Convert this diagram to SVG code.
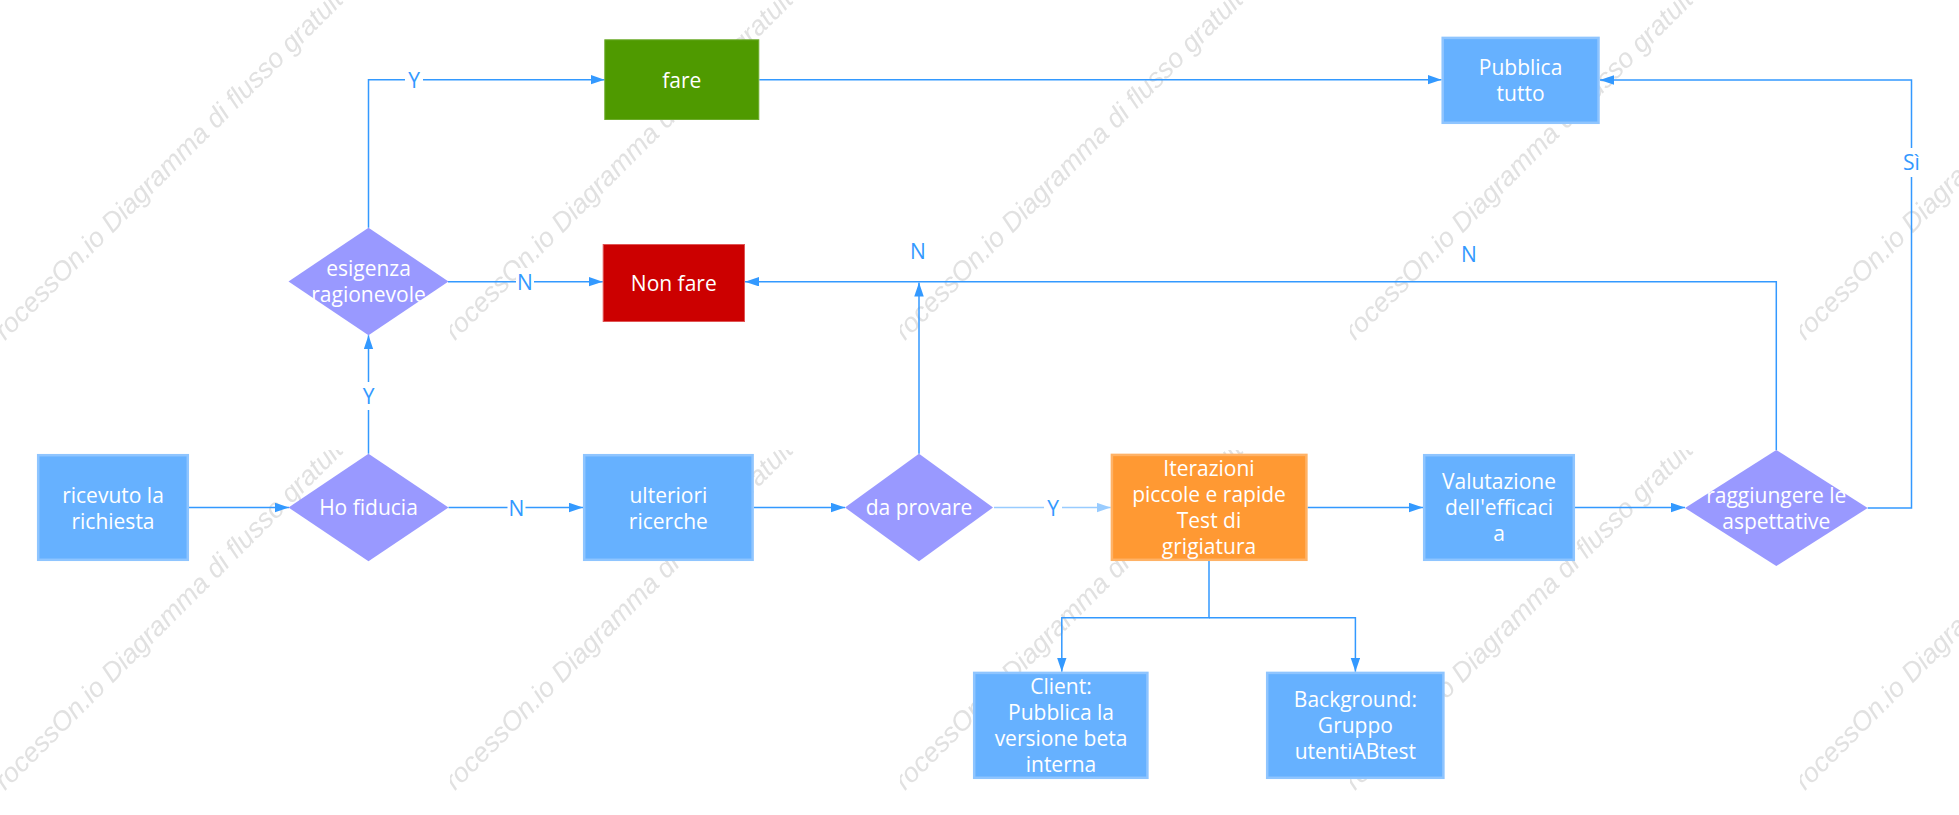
<svg xmlns="http://www.w3.org/2000/svg" width="1959" height="815" viewBox="0 0 1959 815">
<style>
.wm{font-family:"Liberation Sans",Arial,sans-serif;font-style:italic;font-size:27px;fill:#e1e1e1}
.box{fill:#66b1ff;stroke:#8fc5ff;stroke-width:2.5}
.dia{fill:#9999ff}
.t{font-family:"Open Sans","Noto Sans",sans-serif;font-size:21px;fill:#ffffff;text-anchor:middle}
.c{fill:none;stroke:#3399ff;stroke-width:1.5}
.cl{fill:none;stroke:#99ccff;stroke-width:1.5}
.lb{font-family:"Open Sans","Noto Sans",sans-serif;font-size:21px;fill:#3399ff;text-anchor:middle}
.lbg{fill:#ffffff}
</style>
<defs>
<marker id="a" markerUnits="userSpaceOnUse" markerWidth="14" markerHeight="10" refX="14" refY="4.75" orient="auto"><path d="M0,0 L14,4.75 L0,9.5 z" fill="#3399ff"/></marker>
<marker id="al" markerUnits="userSpaceOnUse" markerWidth="14" markerHeight="10" refX="14" refY="4.75" orient="auto"><path d="M0,0 L14,4.75 L0,9.5 z" fill="#99ccff"/></marker>
<pattern id="wmp" x="0" y="0" width="450" height="450" patternUnits="userSpaceOnUse"><text class="wm" transform="translate(5,341) rotate(-45)">rocessOn.io Diagramma di flusso gratuito</text></pattern>
</defs>
<rect width="1959" height="815" fill="#ffffff"/>
<rect width="1959" height="815" fill="url(#wmp)"/>

<g id="connectors">
<path class="c" d="M189,507.5 H289" marker-end="url(#a)"/>
<path class="c" d="M448.5,507.5 H583" marker-end="url(#a)"/>
<path class="c" d="M368.5,453.7 V335.3" marker-end="url(#a)"/>
<path class="c" d="M368.5,227.7 V79.7 H604.5" marker-end="url(#a)"/>
<path class="c" d="M448,281.7 H602.7" marker-end="url(#a)"/>
<path class="c" d="M759.3,79.7 H1441.5" marker-end="url(#a)"/>
<path class="c" d="M753.8,507.5 H845" marker-end="url(#a)"/>
<path class="c" d="M919,453.7 V282.5" marker-end="url(#a)"/>
<path class="c" d="M1776.3,450 V281.7 H745" marker-end="url(#a)"/>
<path class="cl" d="M994,507.5 H1110.7" marker-end="url(#al)"/>
<path class="c" d="M1307.6,507.5 H1423" marker-end="url(#a)"/>
<path class="c" d="M1575,507.5 H1685" marker-end="url(#a)"/>
<path class="c" d="M1867.7,508 H1911.5 V80 H1600" marker-end="url(#a)"/>
<path class="c" d="M1209,561 V617.7 H1061.8 V671.7" marker-end="url(#a)"/>
<path class="c" d="M1209,617.7 H1355.4 V671.7" marker-end="url(#a)"/>
<g id="labels">
<rect class="lbg" x="507.5" y="494" width="18" height="28"/><text class="lb" x="516.5" y="516">N</text>
<rect class="lbg" x="359.5" y="382" width="18" height="28"/><text class="lb" x="368.5" y="404">Y</text>
<rect class="lbg" x="405" y="66" width="18" height="28"/><text class="lb" x="414" y="88">Y</text>
<rect class="lbg" x="516" y="268" width="18" height="28"/><text class="lb" x="525" y="290">N</text>
<rect class="lbg" x="909" y="237" width="18" height="28"/><text class="lb" x="918" y="259">N</text>
<rect class="lbg" x="1460" y="240" width="18" height="28"/><text class="lb" x="1469" y="262">N</text>
<rect class="lbg" x="1044" y="494" width="18" height="28"/><text class="lb" x="1053" y="516">Y</text>
<rect class="lbg" x="1901" y="148" width="21" height="29"/><text class="lb" x="1911.5" y="170">Sì</text>
</g>
</g>

<g id="n-ricevuto"><rect class="box" x="38.2" y="455.2" width="149.6" height="104.6"/><text class="t" x="113" y="502.5">ricevuto la</text><text class="t" x="113" y="528.5">richiesta</text></g>
<g id="n-fiducia"><path class="dia" d="M368.5,453.7 L448.5,507.5 L368.5,561.3 L288.5,507.5 z"/><text class="t" x="368.5" y="515">Ho fiducia</text></g>
<g id="n-esigenza"><path class="dia" d="M368.5,227.7 L448.5,281.5 L368.5,335.3 L288.5,281.5 z"/><text class="t" x="368.5" y="276">esigenza</text><text class="t" x="368.5" y="302">ragionevole</text></g>
<g id="n-fare"><rect x="604.8" y="39.8" width="154" height="79.7" fill="#4f9a00" stroke="#6dac2c" stroke-width="1"/><text class="t" x="681.8" y="88">fare</text></g>
<g id="n-nonfare"><rect x="603.2" y="244.5" width="141.3" height="77" fill="#cc0000" stroke="#e05555" stroke-width="1"/><text class="t" x="673.8" y="291">Non fare</text></g>
<g id="n-pubblica"><rect class="box" x="1442.7" y="37.9" width="155.8" height="84.9"/><text class="t" x="1520.6" y="75">Pubblica</text><text class="t" x="1520.6" y="101">tutto</text></g>
<g id="n-ulteriori"><rect class="box" x="584.2" y="455.2" width="168.4" height="104.6"/><text class="t" x="668.4" y="502.5">ulteriori</text><text class="t" x="668.4" y="528.5">ricerche</text></g>
<g id="n-provare"><path class="dia" d="M919,453.7 L993,507.5 L919,561.3 L845,507.5 z"/><text class="t" x="919" y="515">da provare</text></g>
<g id="n-iterazioni"><rect x="1111.9" y="454.9" width="194.5" height="104.9" fill="#ff9933" stroke="#ffb266" stroke-width="2.5"/><text class="t" x="1209" y="476">Iterazioni</text><text class="t" x="1209" y="502">piccole e rapide</text><text class="t" x="1209" y="528">Test di</text><text class="t" x="1209" y="554">grigiatura</text></g>
<g id="n-valutazione"><rect class="box" x="1424.2" y="455.2" width="149.6" height="104.6"/><text class="t" x="1499" y="489">Valutazione</text><text class="t" x="1499" y="515">dell'efficaci</text><text class="t" x="1499" y="541">a</text></g>
<g id="n-raggiungere"><path class="dia" d="M1776.3,450 L1867.7,508 L1776.3,566 L1685,508 z"/><text class="t" x="1776.3" y="503">raggiungere le</text><text class="t" x="1776.3" y="529">aspettative</text></g>
<g id="n-client"><rect class="box" x="974.2" y="672.9" width="173.2" height="104.9"/><text class="t" x="1061" y="694">Client:</text><text class="t" x="1061" y="720">Pubblica la</text><text class="t" x="1061" y="746">versione beta</text><text class="t" x="1061" y="772">interna</text></g>
<g id="n-background"><rect class="box" x="1267.2" y="672.9" width="176.2" height="104.9"/><text class="t" x="1355.4" y="707">Background:</text><text class="t" x="1355.4" y="733">Gruppo</text><text class="t" x="1355.4" y="759">utentiABtest</text></g>
</svg>
